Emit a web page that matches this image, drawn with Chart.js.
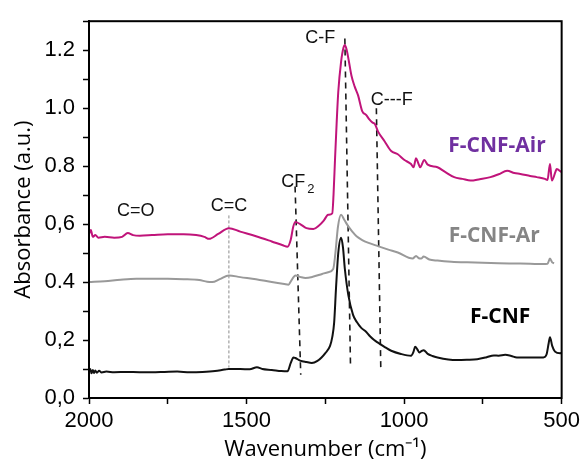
<!DOCTYPE html>
<html>
<head>
<meta charset="utf-8">
<script src="https://cdn.jsdelivr.net/npm/chart.js@4/dist/chart.umd.min.js"></script>
<style>
  html, body { margin: 0; padding: 0; background: #fff; }
  #wrap { width: 584px; height: 466px; }
</style>
</head>
<body>
<div id="wrap"><canvas id="c" width="584" height="466"></canvas></div>
<script>
// spectra (wavenumber in cm-1, absorbance in a.u.)
const airWn = [2000, 1994, 1988, 1980, 1970, 1950, 1920, 1895, 1877, 1860, 1839, 1800, 1750, 1700, 1660, 1634, 1619, 1590, 1556, 1520, 1470, 1420, 1385, 1370, 1360, 1352, 1345, 1330, 1310, 1288, 1270, 1255, 1241, 1228, 1224, 1219, 1214, 1209, 1200, 1192, 1188, 1182, 1175, 1167, 1157, 1146, 1133, 1120, 1111, 1100, 1093, 1083, 1062, 1041, 1020, 1000, 978, 970, 962, 955, 949, 936, 925, 894, 870, 841, 815, 789, 760, 726, 700, 673, 650, 631, 600, 579, 553, 545, 537, 531, 520, 516, 500];
const airAbs = [0.565, 0.58, 0.556, 0.562, 0.553, 0.556, 0.553, 0.556, 0.569, 0.562, 0.56, 0.562, 0.565, 0.565, 0.562, 0.556, 0.549, 0.566, 0.586, 0.574, 0.558, 0.54, 0.527, 0.522, 0.545, 0.59, 0.607, 0.6, 0.586, 0.583, 0.595, 0.612, 0.632, 0.637, 0.7, 0.83, 0.95, 1.055, 1.16, 1.21, 1.218, 1.2, 1.16, 1.112, 1.075, 1.044, 0.99, 0.976, 0.962, 0.95, 0.946, 0.92, 0.886, 0.852, 0.841, 0.822, 0.807, 0.796, 0.827, 0.81, 0.796, 0.821, 0.805, 0.796, 0.78, 0.762, 0.756, 0.75, 0.755, 0.762, 0.772, 0.784, 0.776, 0.773, 0.766, 0.762, 0.756, 0.752, 0.807, 0.75, 0.779, 0.79, 0.779];

const arWn = [2000, 1950, 1900, 1850, 1800, 1750, 1700, 1650, 1625, 1609, 1585, 1556, 1520, 1470, 1420, 1380, 1367, 1358, 1345, 1330, 1313, 1290, 1260, 1241, 1225, 1218, 1210, 1200, 1190, 1177, 1165, 1151, 1133, 1115, 1083, 1050, 1020, 973, 962, 953, 946, 938, 920, 894, 850, 800, 750, 700, 650, 600, 560, 545, 537, 530, 524];
const arAbs = [0.4, 0.403, 0.408, 0.411, 0.411, 0.411, 0.41, 0.407, 0.401, 0.4, 0.41, 0.423, 0.417, 0.41, 0.4, 0.393, 0.391, 0.405, 0.423, 0.418, 0.414, 0.418, 0.428, 0.434, 0.445, 0.5, 0.59, 0.632, 0.615, 0.592, 0.575, 0.558, 0.545, 0.536, 0.524, 0.512, 0.502, 0.481, 0.49, 0.482, 0.481, 0.488, 0.478, 0.474, 0.47, 0.468, 0.467, 0.465, 0.464, 0.463, 0.462, 0.463, 0.481, 0.468, 0.465];

const cnfWn = [2000, 1996, 1992, 1988, 1984, 1980, 1975, 1968, 1960, 1945, 1920, 1880, 1840, 1800, 1760, 1720, 1680, 1640, 1600, 1570, 1556, 1520, 1490, 1467, 1450, 1420, 1390, 1370, 1360, 1351, 1345, 1330, 1310, 1293, 1275, 1262, 1250, 1235, 1228, 1222, 1216, 1209, 1200, 1194, 1188, 1177, 1162, 1150, 1136, 1120, 1109, 1095, 1083, 1060, 1041, 1010, 978, 970, 965, 958, 952, 945, 938, 925, 910, 894, 860, 831, 800, 768, 740, 715, 700, 679, 660, 642, 600, 558, 548, 541, 537, 530, 521, 505, 500];
const cnfAbs = [0.093, 0.1, 0.085, 0.097, 0.086, 0.095, 0.087, 0.094, 0.088, 0.091, 0.089, 0.09, 0.089, 0.089, 0.09, 0.091, 0.089, 0.09, 0.093, 0.098, 0.1, 0.1, 0.099, 0.106, 0.1, 0.097, 0.093, 0.092, 0.12, 0.14, 0.138, 0.129, 0.124, 0.121, 0.128, 0.14, 0.155, 0.18, 0.21, 0.26, 0.38, 0.5, 0.553, 0.52, 0.445, 0.355, 0.287, 0.262, 0.242, 0.228, 0.214, 0.2, 0.191, 0.175, 0.163, 0.152, 0.146, 0.16, 0.177, 0.168, 0.157, 0.162, 0.165, 0.152, 0.145, 0.14, 0.133, 0.131, 0.132, 0.134, 0.14, 0.147, 0.146, 0.149, 0.145, 0.14, 0.14, 0.14, 0.15, 0.19, 0.21, 0.18, 0.16, 0.154, 0.156];

// band markers (dashed guide lines), top and bottom ends
const markerTopWn = [1556, 1346, 1188, 1088];
const markerTopAbs = [0.63, 0.73, 1.24, 1.0];
const markerBottomWn = [1556, 1328, 1170, 1074];
const markerBottomAbs = [0.105, 0.08, 0.105, 0.105];

const xTickLabels = [2000, 1500, 1000, 500];
const yTickLabels = { 0: '0,0', 2: '0,2', 4: '0.4', 6: '0,6', 8: '0.8', 10: '1.0', 12: '1.2' };

const toXY = (xs, ys) => xs.map((x, i) => ({ x: x, y: ys[i] }));

const markerSets = markerTopWn.map((wn, i) => ({
    label: 'marker' + i,
    data: [{ x: wn, y: markerTopAbs[i] }, { x: markerBottomWn[i], y: markerBottomAbs[i] }],
    borderColor: i === 0 ? '#8a8a8a' : '#1a1a1a',
    borderWidth: i === 0 ? 1 : 1.6,
    borderDash: i === 0 ? [3, 2] : [6, 5],
    pointRadius: 0,
}));

const textLabels = [
    { text: 'C=O', wn: 1852, abs: 0.644, font: '18px "Liberation Sans"', color: '#111' },
    { text: 'C=C', wn: 1556, abs: 0.661, font: '18px "Liberation Sans"', color: '#111' },
    { text: 'C-F', wn: 1266, abs: 1.241, font: '18px "Liberation Sans"', color: '#111' },
    { text: 'C---F', wn: 1039, abs: 1.027, font: '18px "Liberation Sans"', color: '#111' },
    { text: 'F-CNF-Air', wn: 705, abs: 0.868, font: 'bold 21px "Open Sans"', color: '#7030a0' },
    { text: 'F-CNF-Ar', wn: 714, abs: 0.559, font: 'bold 21px "Open Sans"', color: '#858585' },
    { text: 'F-CNF', wn: 695, abs: 0.281, font: 'bold 21px "Open Sans"', color: '#000' },
];

const decorPlugin = {
    id: 'decor',
    afterDatasetsDraw(chart) {
        const { ctx, chartArea: a, scales: { x, y } } = chart;
        ctx.save();
        ctx.textAlign = 'center';
        ctx.textBaseline = 'middle';
        textLabels.forEach(l => {
            ctx.font = l.font;
            ctx.fillStyle = l.color;
            ctx.fillText(l.text, x.getPixelForValue(l.wn), y.getPixelForValue(l.abs));
        });
        // CF2 with subscript
        const cx = x.getPixelForValue(1352);
        const cy = y.getPixelForValue(0.746);
        ctx.font = '18px "Liberation Sans"';
        ctx.fillStyle = '#111';
        ctx.textAlign = 'right';
        ctx.fillText('CF', cx + 12, cy);
        ctx.font = '13px "Liberation Sans"';
        ctx.textAlign = 'left';
        ctx.fillText('2', cx + 14, cy + 8);

        ctx.strokeStyle = '#000';
        ctx.lineWidth = 2;
        ctx.strokeRect(a.left, a.top, a.right - a.left, a.bottom - a.top);
        ctx.restore();
    },
};

const tickFont = { family: '"Liberation Sans", Arial, sans-serif', size: 22 };
const titleFont = { family: '"Open Sans", sans-serif', size: 22 };
const curve = { borderWidth: 2, pointRadius: 0, cubicInterpolationMode: 'monotone' };

new Chart(document.getElementById('c'), {
    type: 'line',
    data: {
        datasets: [
            { label: 'F-CNF-Air', data: toXY(airWn, airAbs), borderColor: '#c0147a', ...curve },
            { label: 'F-CNF-Ar', data: toXY(arWn, arAbs), borderColor: '#999999', ...curve },
            { label: 'F-CNF', data: toXY(cnfWn, cnfAbs), borderColor: '#111111', ...curve },
            ...markerSets,
        ],
    },
    options: {
        responsive: false,
        animation: false,
        devicePixelRatio: 1,
        layout: { padding: { top: 14, right: 19, left: 0, bottom: 0 } },
        plugins: { legend: { display: false }, tooltip: { enabled: false } },
        scales: {
            x: {
                type: 'linear',
                reverse: true,
                min: 500,
                max: 2000,
                ticks: {
                    stepSize: 250,
                    autoSkip: false,
                    maxRotation: 0,
                    padding: 4,
                    color: '#000',
                    font: tickFont,
                    callback: v => (xTickLabels.includes(v) ? String(v) : ''),
                },
                grid: { drawOnChartArea: false, tickLength: 6, tickWidth: 1.5, tickColor: '#000' },
                border: { color: '#000', width: 2 },
                title: { display: true, text: 'Wavenumber (cm⁻¹)', color: '#000', font: titleFont, padding: { top: 0, bottom: 3 } },
                afterFit(s) { s.height = 68; },
            },
            y: {
                min: 0,
                max: 1.3,
                ticks: {
                    stepSize: 0.1,
                    autoSkip: false,
                    padding: 8,
                    color: '#000',
                    font: tickFont,
                    callback: v => yTickLabels[Math.round(v * 10)] || '',
                },
                grid: { drawOnChartArea: false, tickLength: 6, tickWidth: 1.5, tickColor: '#000' },
                border: { color: '#000', width: 2 },
                title: { display: true, text: 'Absorbance (a.u.)', color: '#000', font: titleFont, padding: { top: 11, bottom: 0 } },
                afterFit(s) { s.width = 89; },
            },
        },
    },
    plugins: [decorPlugin],
});
</script>
</body>
</html>
